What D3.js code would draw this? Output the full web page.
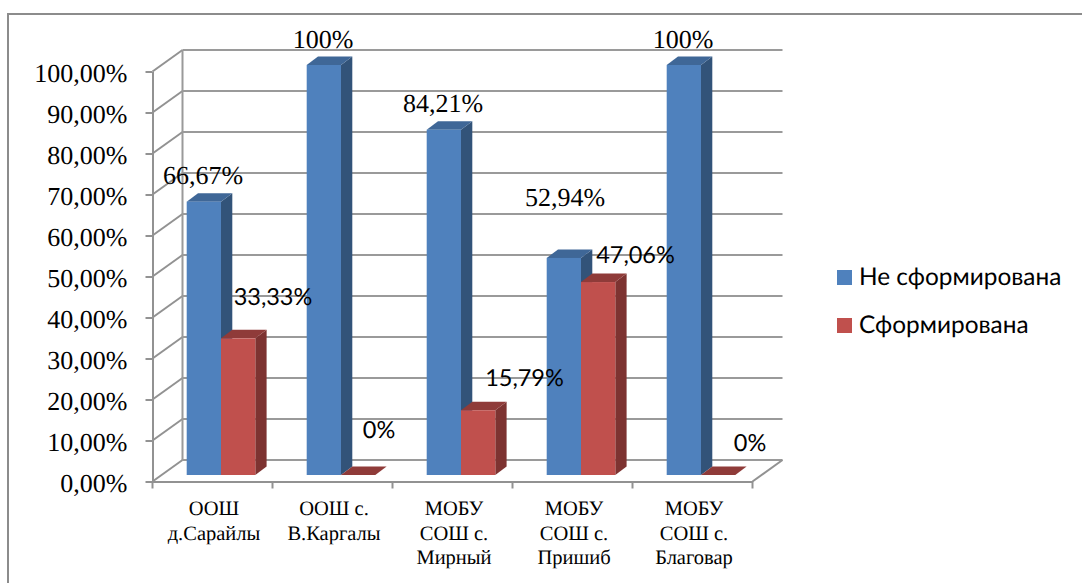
<!DOCTYPE html>
<html><head><meta charset="utf-8">
<script src="https://cdn.jsdelivr.net/npm/d3@7"></script>
<style>html,body{margin:0;padding:0;background:#fff;overflow:hidden}svg{display:block;text-rendering:geometricPrecision}</style></head>
<body><svg id="c" width="1082" height="583"></svg>
<script>
const categories=[["ООШ","д.Сарайлы"],["ООШ с.","В.Каргалы"],["МОБУ","СОШ с.","Мирный"],["МОБУ","СОШ с.","Пришиб"],["МОБУ","СОШ с.","Благовар"]];
const seriesNames=["Не сформирована","Сформирована"];
const notFormed=[66.67,100,84.21,52.94,100];
const formed=[33.33,0,15.79,47.06,0];
const notFormedLabels=["66,67%","100%","84,21%","52,94%","100%"];
const formedLabels=["33,33%","0%","15,79%","47,06%","0%"];
const yTicks=[0,10,20,30,40,50,60,70,80,90,100];

const svg=d3.select("#c");
const SERIF="'Liberation Serif',serif",SANS="Lato,sans-serif";
const grey="#929292";
svg.append("path").attr("d","M8,583V14H1082").attr("fill","none").attr("stroke","#8c8c8c").attr("stroke-width",2);

const x=d3.scaleBand().domain(d3.range(5)).range([152.5,752.5]);
const y=d3.scaleLinear().domain([0,100]).range([481.5,71.5]);
const wall={dx:30,dy:-21.5};
const bar={w:34.3,offset:34.2,lift:-6.5,dx:11.3,dy:-8.5};

// back wall gridlines and floor-side connectors
const g=svg.append("g").attr("fill","none").attr("stroke",grey).attr("stroke-width",2);
yTicks.forEach(t=>{
  g.append("line").attr("x1",x.range()[0]+wall.dx).attr("x2",x.range()[1]+wall.dx).attr("y1",y(t)+wall.dy).attr("y2",y(t)+wall.dy).attr("stroke","#9a9a9a");
  g.append("line").attr("x1",x.range()[0]).attr("x2",x.range()[0]+wall.dx).attr("y1",y(t)).attr("y2",y(t)+wall.dy);
});
g.append("line").attr("x1",x.range()[0]+wall.dx).attr("x2",x.range()[0]+wall.dx).attr("y1",y(0)+wall.dy).attr("y2",y(100)+wall.dy).attr("stroke","#9a9a9a");
g.append("line").attr("x1",x.range()[1]).attr("x2",x.range()[1]+wall.dx).attr("y1",y(0)).attr("y2",y(0)+wall.dy);

// axes
const yAxis=svg.append("g").attr("transform",`translate(${x.range()[0]},0)`).call(d3.axisLeft(y).tickValues(yTicks).tickSize(7).tickSizeOuter(0).tickPadding(18).tickFormat(d=>d.toFixed(2).replace(".",",")+"%"));
yAxis.selectAll("line,path").attr("stroke",grey).attr("stroke-width",2);
yAxis.selectAll("text").attr("font-family",SERIF).attr("font-size",26).attr("fill","#000").attr("dy","0.38em");
const xAxis=svg.append("g").attr("transform",`translate(0,${y(0)})`).call(d3.axisBottom(x).tickValues([]).tickSizeOuter(0));
xAxis.select("path").attr("stroke",grey).attr("stroke-width",2);
xAxis.selectAll(null).data(d3.range(6)).enter().append("line").attr("x1",i=>x.range()[0]+i*x.bandwidth()).attr("x2",i=>x.range()[0]+i*x.bandwidth()).attr("y1",0).attr("y2",7).attr("stroke",grey).attr("stroke-width",2);

const cat=svg.append("g").attr("font-family",SERIF).attr("font-size",20.5).attr("fill","#000").attr("text-anchor","middle");
categories.forEach((lines,i)=>lines.forEach((l,j)=>cat.append("text").attr("x",x(i)+x.bandwidth()/2+1.5).attr("y",515+j*24.5).text(l)));

// bars
function drawBar(v,x0,front,top,side){
  const g=svg.append("g");
  const yT=y(v)+bar.lift,yB=y(0)+bar.lift,x1=x0+bar.w;
  const pts=a=>a.map(p=>p.join(",")).join(" ");
  if(v>0) g.append("polygon").attr("points",pts([[x1,yT],[x1+bar.dx,yT+bar.dy],[x1+bar.dx,yB+bar.dy],[x1,yB]])).attr("fill",side);
  g.append("polygon").attr("points",pts([[x0,yT],[x0+bar.dx,yT+bar.dy],[x1+bar.dx,yT+bar.dy],[x1,yT]])).attr("fill",top);
  if(v>0) g.append("rect").attr("x",x0).attr("y",yT).attr("width",bar.w).attr("height",yB-yT).attr("fill",front);
}
categories.forEach((_,i)=>{
  const x0=x(i)+bar.offset;
  drawBar(notFormed[i],x0,"#4f81bd","#3f6797","#325379");
  drawBar(formed[i],x0+bar.w,"#c0504d","#8f3b39","#7d3331");
});

// data labels
const blueLabelPos=[[203,184],[323,48],[443,112],[565,206],[683,48]];
const redLabelPos=[[273,305],[379,438],[524.5,386],[635.5,263],[750,451]];
const lab=svg.append("g").attr("text-anchor","middle").attr("fill","#000");
notFormedLabels.forEach((t,i)=>lab.append("text").attr("x",blueLabelPos[i][0]).attr("y",blueLabelPos[i][1]).attr("font-family",SERIF).attr("font-size",26).text(t));
formedLabels.forEach((t,i)=>lab.append("text").attr("x",redLabelPos[i][0]).attr("y",redLabelPos[i][1]).attr("font-family",SANS).attr("font-size",23.5).text(t));

// legend
const colors=["#4f81bd","#c0504d"];
seriesNames.forEach((n,i)=>{
  const ly=278+i*48;
  svg.append("rect").attr("x",837).attr("y",ly-8).attr("width",15).attr("height",15).attr("fill",colors[i]);
  svg.append("text").attr("x",859).attr("y",ly+6.5).attr("font-family",SANS).attr("font-size",24.4).attr("fill","#000").text(n);
});
</script></body></html>
